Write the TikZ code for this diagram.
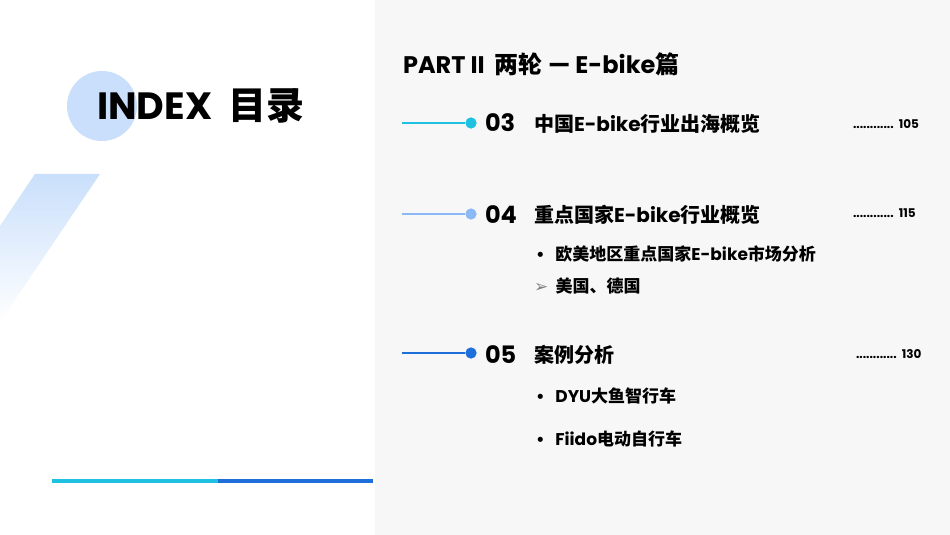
\documentclass[tikz,border=0pt]{standalone}
\usepackage{fontspec}
\setmainfont{Poppins}
\newfontfamily\cjk{Noto Sans CJK SC}
\newfontfamily\symfont{DejaVu Sans}
\usetikzlibrary{positioning}
\definecolor{panelgray}{HTML}{F7F7F7}
\definecolor{circblue}{HTML}{C9DFFB}
\definecolor{cyanline}{HTML}{1EC1E0}
\definecolor{lightline}{HTML}{8CB8F5}
\definecolor{darkline}{HTML}{1F6FDB}
\tikzset{
  leadline/.style={line width=0.6pt},
  num/.style={anchor=west,font=\fontsize{12}{12}\selectfont\bfseries},
  head/.style={anchor=west,font=\fontsize{10}{10}\selectfont\bfseries},
  sub/.style={anchor=west,font=\fontsize{8.5}{9}\selectfont\bfseries},
  pagenum/.style={anchor=west,font=\fontsize{6}{6}\selectfont\bfseries}
}
\begin{document}
\begin{tikzpicture}[x=0.5pt,y=-0.5pt]
\useasboundingbox (0,0) rectangle (950,535);
% background
\fill[white] (0,0) rectangle (375,535);
\fill[panelgray] (375,0) rectangle (950,535);
% the left side
\fill[circblue] (102,106) circle (35);
\shade[top color=circblue,bottom color=white] (35,174) -- (100,174) -- (0,322) -- (0,226) -- cycle;
\node[anchor=west,font=\fontsize{19}{19}\selectfont\bfseries] (index) at (90,106) {INDEX\ \ {\cjk 目录}};
\coordinate (barA) at (52,481);
\coordinate (barB) at (218,481);
\coordinate (barC) at (373,481);
\draw[cyanline,line width=1.6pt] (barA) -- (barB);
\draw[darkline,line width=1.6pt] (barB) -- (barC);
% the title
\node[anchor=west,font=\fontsize{12}{12}\selectfont\bfseries] (title) at (396,64) {PART II\ \ {\cjk 两轮} — E-bike{\cjk 篇}};
% section 03
\coordinate (s3) at (402,123);
\node[circle,fill=cyanline,inner sep=2pt] (d3) at (471,123) {};
\draw[cyanline,leadline] (s3) -- (d3);
\node[num] (n3) at (478,123) {03};
\node[head] (h3) at (527,124) {\cjk 中国{\rmfamily E-bike}行业出海概览};
\node[pagenum] (p3) at (846,124) {\textbf{............}\ \ 105};
% section 04
\coordinate (s4) at (402,214);
\node[circle,fill=lightline,inner sep=2pt] (d4) at (471,214) {};
\draw[lightline,leadline] (s4) -- (d4);
\node[num] (n4) at (478,215) {04};
\node[head] (h4) at (527,215) {\cjk 重点国家{\rmfamily E-bike}行业概览};
\node[pagenum] (p4) at (846,213) {............\ \ 115};
\node[sub] (b41) at (529,254) {•\ \ \ {\cjk 欧美地区重点国家{\rmfamily E-bike}市场分析}};
\node[sub] (b42) at (527,286) {{\symfont\color{gray}➢}\ \ {\cjk 美国、德国}};
% section 05
\coordinate (s5) at (402,353);
\node[circle,fill=darkline,inner sep=2pt] (d5) at (471,353) {};
\draw[darkline,leadline] (s5) -- (d5);
\node[num] (n5) at (478,355) {05};
\node[head] (h5) at (527,355) {\cjk 案例分析};
\node[pagenum] (p5) at (849,354) {............\ \ 130};
\node[sub] (b51) at (529,396) {•\ \ \ DYU{\cjk 大鱼智行车}};
\node[sub] (b52) at (529,439) {•\ \ \ Fiido{\cjk 电动自行车}};
\end{tikzpicture}
\end{document}
